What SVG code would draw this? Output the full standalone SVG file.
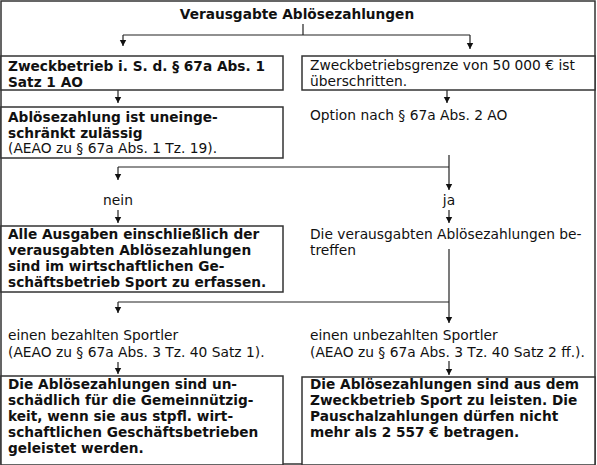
<svg xmlns="http://www.w3.org/2000/svg" width="597" height="465" viewBox="0 0 597 465">
<style>
text{font-family:"DejaVu Sans",Verdana,sans-serif;font-size:13.8px;fill:#111}
.b{font-weight:bold;font-size:13.7px}
.box{fill:#fff;stroke:#333;stroke-width:1.5}
.ln{fill:none;stroke:#222;stroke-width:1.2}
</style>
<defs>
<marker id="ah" viewBox="0 0 6 8" refX="6" refY="4" markerWidth="6" markerHeight="8" markerUnits="userSpaceOnUse" orient="auto">
<path d="M0,0.8 L6,4 L0,7.2 Z" fill="#111"/>
</marker>
</defs>
<rect x="1" y="1" width="594" height="463" fill="#fff" stroke="#333" stroke-width="1.5"/>
<g id="connectors">
<path class="ln" d="M303,24 V35"/>
<path class="ln" d="M123,35 H470"/>
<path class="ln" d="M123,35 V46" marker-end="url(#ah)"/>
<path class="ln" d="M470,35 V49" marker-end="url(#ah)"/>
<path class="ln" d="M118,90 V103" marker-end="url(#ah)"/>
<path class="ln" d="M447,90 V103" marker-end="url(#ah)"/>
<path class="ln" d="M449,155 V190" marker-end="url(#ah)"/>
<path class="ln" d="M118,167 H449"/>
<path class="ln" d="M118,167 V180" marker-end="url(#ah)"/>
<path class="ln" d="M118,210 V223" marker-end="url(#ah)"/>
<path class="ln" d="M449,210 V223" marker-end="url(#ah)"/>
<path class="ln" d="M449,249 V323" marker-end="url(#ah)"/>
<path class="ln" d="M118,302 H449"/>
<path class="ln" d="M118,302 V313" marker-end="url(#ah)"/>
<path class="ln" d="M118,362 V374" marker-end="url(#ah)"/>
<path class="ln" d="M449,361 V375" marker-end="url(#ah)"/>
</g>
<g id="title"><text class="b" x="297" y="19" text-anchor="middle">Verausgabte Ablösezahlungen</text></g>
<g id="zweckbetrieb">
<rect class="box" x="1" y="56" width="282" height="34"/>
<text class="b" x="8" y="71">Zweckbetrieb i. S. d. § 67a Abs. 1</text>
<text class="b" x="8" y="87">Satz 1 AO</text>
</g>
<g id="grenze">
<rect class="box" x="302" y="56" width="293" height="34"/>
<text x="310" y="70">Zweckbetriebsgrenze von 50 000 € ist</text>
<text x="310" y="86">überschritten.</text>
</g>
<g id="zulaessig">
<rect class="box" x="1" y="107" width="282" height="51"/>
<text class="b" x="8" y="122">Ablösezahlung ist uneinge-</text>
<text class="b" x="8" y="138">schränkt zulässig</text>
<text x="8" y="153">(AEAO zu § 67a Abs. 1 Tz. 19).</text>
</g>
<g id="option"><text x="310" y="120">Option nach § 67a Abs. 2 AO</text></g>
<g id="nein"><text x="118" y="205" text-anchor="middle">nein</text></g>
<g id="ja"><text x="449" y="205" text-anchor="middle">ja</text></g>
<g id="ausgaben">
<rect class="box" x="1" y="226" width="282" height="66"/>
<text class="b" x="8" y="239">Alle Ausgaben einschließlich der</text>
<text class="b" x="8" y="255">verausgabten Ablösezahlungen</text>
<text class="b" x="8" y="271">sind im wirtschaftlichen Ge-</text>
<text class="b" x="8" y="287">schäftsbetrieb Sport zu erfassen.</text>
</g>
<g id="betreffen">
<text x="310" y="239">Die verausgabten Ablösezahlungen be-</text>
<text x="310" y="255">treffen</text>
</g>
<g id="bezahlt">
<text x="8" y="340">einen bezahlten Sportler</text>
<text x="8" y="357">(AEAO zu § 67a Abs. 3 Tz. 40 Satz 1).</text>
</g>
<g id="unbezahlt">
<text x="310" y="340">einen unbezahlten Sportler</text>
<text x="310" y="357">(AEAO zu § 67a Abs. 3 Tz. 40 Satz 2 ff.).</text>
</g>
<g id="unschaedlich">
<rect class="box" x="1" y="376" width="282" height="89"/>
<text class="b" x="8" y="389">Die Ablösezahlungen sind un-</text>
<text class="b" x="8" y="405">schädlich für die Gemeinnützig-</text>
<text class="b" x="8" y="421">keit, wenn sie aus stpfl. wirt-</text>
<text class="b" x="8" y="437">schaftlichen Geschäftsbetrieben</text>
<text class="b" x="8" y="453">geleistet werden.</text>
</g>
<g id="zweckbetrieb-sport">
<rect class="box" x="302" y="377" width="293" height="88"/>
<text class="b" x="310" y="389">Die Ablösezahlungen sind aus dem</text>
<text class="b" x="310" y="405">Zweckbetrieb Sport zu leisten. Die</text>
<text class="b" x="310" y="421">Pauschalzahlungen dürfen nicht</text>
<text class="b" x="310" y="437">mehr als 2 557 € betragen.</text>
</g>
</svg>
